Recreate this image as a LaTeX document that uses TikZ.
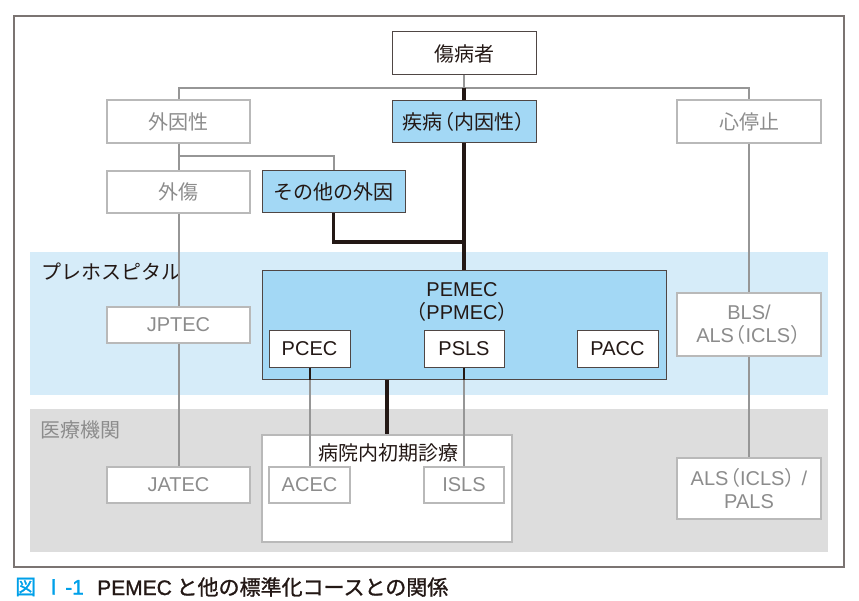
\documentclass[tikz,border=0pt]{standalone}
\usepackage{fontspec}
\setmainfont{Noto Sans CJK JP}
\newfontfamily\lat{Liberation Sans}
\newfontfamily\capfont[FakeBold=1.2]{Noto Sans CJK JP}
\newfontfamily\caplat[FakeBold=1.2]{Liberation Sans}
\newcommand{\lpa}{\kern-0.42em（}
\newcommand{\rpa}{）\kern-0.42em}
\usepackage{tikz}
\usetikzlibrary{
    arrows.meta,
    positioning,
    calc
}
\definecolor{pmBlue}{RGB}{163,216,245}
\definecolor{pmBand}{RGB}{214,236,249}
\definecolor{pmGrayBand}{RGB}{221,221,221}
\definecolor{pmLine}{RGB}{150,150,150}
\definecolor{pmLight}{RGB}{185,185,185}
\definecolor{pmText}{RGB}{140,140,140}
\definecolor{pmDark}{RGB}{35,24,21}
\definecolor{pmCap}{RGB}{0,160,233}
\tikzset{
  box/.style    = {draw=pmDark!80, line width=1pt, fill=white, align=center,
                   inner sep=0pt, font=\fontsize{20}{23}\selectfont, text=pmDark},
  bbox/.style   = {box, fill=pmBlue},
  lbox/.style   = {box, draw=pmLight, line width=1.3pt, text=pmText},
  gline/.style  = {pmLine, line width=2pt},
  bline/.style  = {pmDark, line width=3.2pt},
  dline/.style  = {pmDark, line width=2pt},
  band/.style   = {font=\fontsize{20}{23}\selectfont, anchor=west, inner sep=0pt}
}

\begin{document}
\begin{tikzpicture}[x=1pt, y=-1pt]
    \useasboundingbox (0,0) rectangle (859,601);
    % frame and bands
    \draw[pmDark!60, line width=1.3pt, fill=white] (14,16) rectangle (844,567);
    \fill[pmBand] (30,252) rectangle (828,395);
    \fill[pmGrayBand] (30,409) rectangle (828,552);
    \node[band, text=pmDark] (preh) at (41,272) {プレホスピタル};
    \node[band, text=pmText] (inst) at (40,430) {医療機関};

    % upper tree
    \node[box, minimum width=144pt, minimum height=43pt] (patient) at (464,53.5) {傷病者};
    \node[bbox, minimum width=144pt, minimum height=42pt] (intr) at (464,122) {疾病\lpa 内因性\rpa};
    \node[lbox, minimum width=143pt, minimum height=43pt] (extr) at (178.5,121.5) {外因性};
    \node[lbox, minimum width=144pt, minimum height=43pt] (arrest) at (749,121.5) {心停止};
    \node[lbox, minimum width=143pt, minimum height=42pt] (trauma) at (178.5,192) {外傷};
    \node[bbox, minimum width=143pt, minimum height=42pt] (other) at (333.5,192) {その他の外因};

    % PEMEC
    \node[bbox, minimum width=404pt, minimum height=108pt] (pemec) at (464,325) {};
    \node[inner sep=0pt, align=center, text=pmDark, font=\fontsize{20}{23}\selectfont]
        (pemecT) at (462,301.5) {{\lat PEMEC}\\\lpa{\lat PPMEC}\rpa};
    \node[box, minimum width=81pt, minimum height=36pt] (pcec) at (309.5,349) {\lat PCEC};
    \node[box, minimum width=80pt, minimum height=36pt] (psls) at (464,349) {\lat PSLS};
    \node[box, minimum width=81pt, minimum height=36pt] (pacc) at (617.5,349) {\lat PACC};

    \node[lbox, minimum width=143pt, minimum height=36pt] (jptec) at (178.5,325) {\lat JPTEC};
    \node[lbox, minimum width=144pt, minimum height=63pt] (bls) at (749,324.5)
        {{\lat BLS/}\\{\lat ALS}\lpa{\lat ICLS}\rpa};

    % hospital
    \node[box, draw=pmLight, line width=1.3pt, minimum width=250pt, minimum height=107pt] (hosp) at (387,488.5) {};
    \node[inner sep=0pt, text=pmDark, font=\fontsize{20}{23}\selectfont] (hospT) at (388,453) {病院内初期診療};
    \node[lbox, minimum width=81pt, minimum height=36pt] (acec) at (309.5,485) {\lat ACEC};
    \node[lbox, minimum width=80pt, minimum height=36pt] (isls) at (464,485) {\lat ISLS};
    \node[lbox, minimum width=143pt, minimum height=36pt] (jatec) at (178.5,485) {\lat JATEC};
    \node[lbox, minimum width=144pt, minimum height=61pt] (als) at (749,488.5)
        {{\lat ALS}\lpa{\lat ICLS}\rpa{\lat\ /}\\{\lat PALS}};

    % connectors
    \coordinate (top) at (464,88);
    \coordinate (ofork) at (333.5,156);
    \coordinate (join) at (464,242);
    \draw[gline] (patient) -- (top);
    \draw[gline] (extr.north) |- (top) -| (arrest.north);
    \draw[bline] (top) -- (intr.north);
    \draw[gline] (extr) -- (trauma);
    \draw[gline] (extr.south) |- (ofork) -- (other.north);
    \draw[bline] (other.south) |- (join);
    \draw[bline] (intr) -- (pemec);
    \draw[gline] (trauma) -- (jptec);
    \draw[gline] (jptec) -- (jatec);
    \draw[gline] (arrest) -- (bls);
    \draw[gline] (bls) -- (als);
    \draw[bline] (hosp.north |- pemec.south) -- (hosp.north);
    \draw[dline] (pcec.south) -- (pcec.south |- pemec.south);
    \draw[gline] (pcec.south |- pemec.south) -- (acec.north);
    \draw[dline] (psls.south) -- (psls.south |- pemec.south);
    \draw[gline] (psls.south |- pemec.south) -- (isls.north);

    % caption
    \node[anchor=west, inner sep=0pt, text=pmCap, font=\fontsize{21}{23}\capfont]
        (capno) at (15,587) {図\hspace{7pt}Ⅰ\hspace{1pt}{\caplat -1}};
    \node[anchor=west, inner sep=0pt, text=pmDark, font=\fontsize{21}{23}\capfont]
        (captxt) at (97,587) {{\caplat PEMEC} と他の標準化コースとの関係};
\end{tikzpicture}
\end{document}
